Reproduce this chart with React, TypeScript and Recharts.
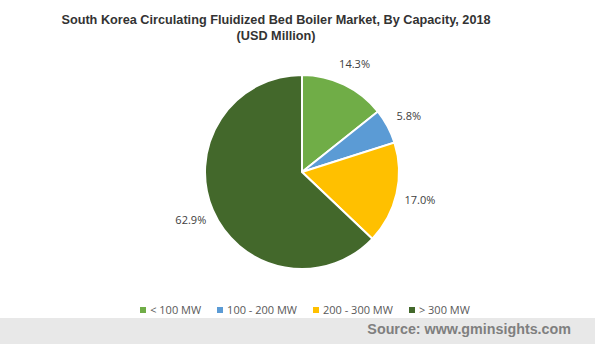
import { PieChart, Pie, Cell, Legend } from "recharts";

const CATEGORIES = ["< 100 MW", "100 - 200 MW", "200 - 300 MW", "> 300 MW"];
const SHARES = [14.3, 5.8, 17.0, 62.9];
const COLORS = ["#70AD47", "#5B9BD5", "#FFC000", "#43682B"];

const data = CATEGORIES.map((name, i) => ({ name, value: SHARES[i] }));

const RAD = Math.PI / 180;

function renderLabel(props: any) {
  const { cx, cy, midAngle, outerRadius, value } = props;
  const r = outerRadius + 24;
  const x = cx + r * Math.cos(-midAngle * RAD);
  const y = cy + r * Math.sin(-midAngle * RAD);
  return (
    <text
      x={x}
      y={y}
      fill="#404040"
      fontSize={11}
      fontFamily="'Open Sans', sans-serif"
      textAnchor="middle"
      dominantBaseline="central"
    >
      {value.toFixed(1)}%
    </text>
  );
}

function LegendContent() {
  return (
    <div
      style={{
        display: "flex",
        justifyContent: "center",
        gap: 16,
        fontFamily: "'Open Sans', sans-serif",
        fontSize: 11,
        color: "#595959",
      }}
    >
      {CATEGORIES.map((c, i) => (
        <div key={c} style={{ display: "flex", alignItems: "center", gap: 4 }}>
          <span style={{ width: 6, height: 6, background: COLORS[i], display: "inline-block" }} />
          <span>{c}</span>
        </div>
      ))}
    </div>
  );
}

export default function App() {
  return (
    <div
      style={{
        position: "absolute",
        left: 0,
        top: 0,
        width: 595,
        height: 344,
        background: "#fff",
        overflow: "hidden",
      }}
    >
      <div
        style={{
          position: "absolute",
          left: 0,
          top: 12,
          width: 552,
          textAlign: "center",
          fontFamily: "'Liberation Sans', Arial, sans-serif",
          fontWeight: "bold",
          fontSize: 12.7,
          lineHeight: "16px",
          color: "#333",
        }}
      >
        South Korea Circulating Fluidized Bed Boiler Market, By Capacity, 2018
        <br />
        (USD Million)
      </div>
      <PieChart width={595} height={344}>
        <Pie
          data={data}
          dataKey="value"
          nameKey="name"
          cx={297}
          cy={167}
          outerRadius={97}
          startAngle={90}
          endAngle={-270}
          stroke="#fff"
          strokeWidth={2}
          label={renderLabel}
          labelLine={false}
          isAnimationActive={false}
        >
          {data.map((d, i) => (
            <Cell key={d.name} fill={COLORS[i]} />
          ))}
        </Pie>
        <Legend
          content={<LegendContent />}
          wrapperStyle={{ position: "absolute", left: 0, top: 302, width: 610 }}
        />
      </PieChart>
      <div
        style={{
          position: "absolute",
          left: 0,
          top: 318,
          width: 595,
          height: 26,
          background: "#E8E8E8",
        }}
      >
        <div
          style={{
            position: "absolute",
            right: 24,
            top: 3,
            fontFamily: "'Liberation Sans', Arial, sans-serif",
            fontWeight: "bold",
            fontSize: 14.3,
            color: "#7F7F7F",
          }}
        >
          Source: www.gminsights.com
        </div>
      </div>
    </div>
  );
}
